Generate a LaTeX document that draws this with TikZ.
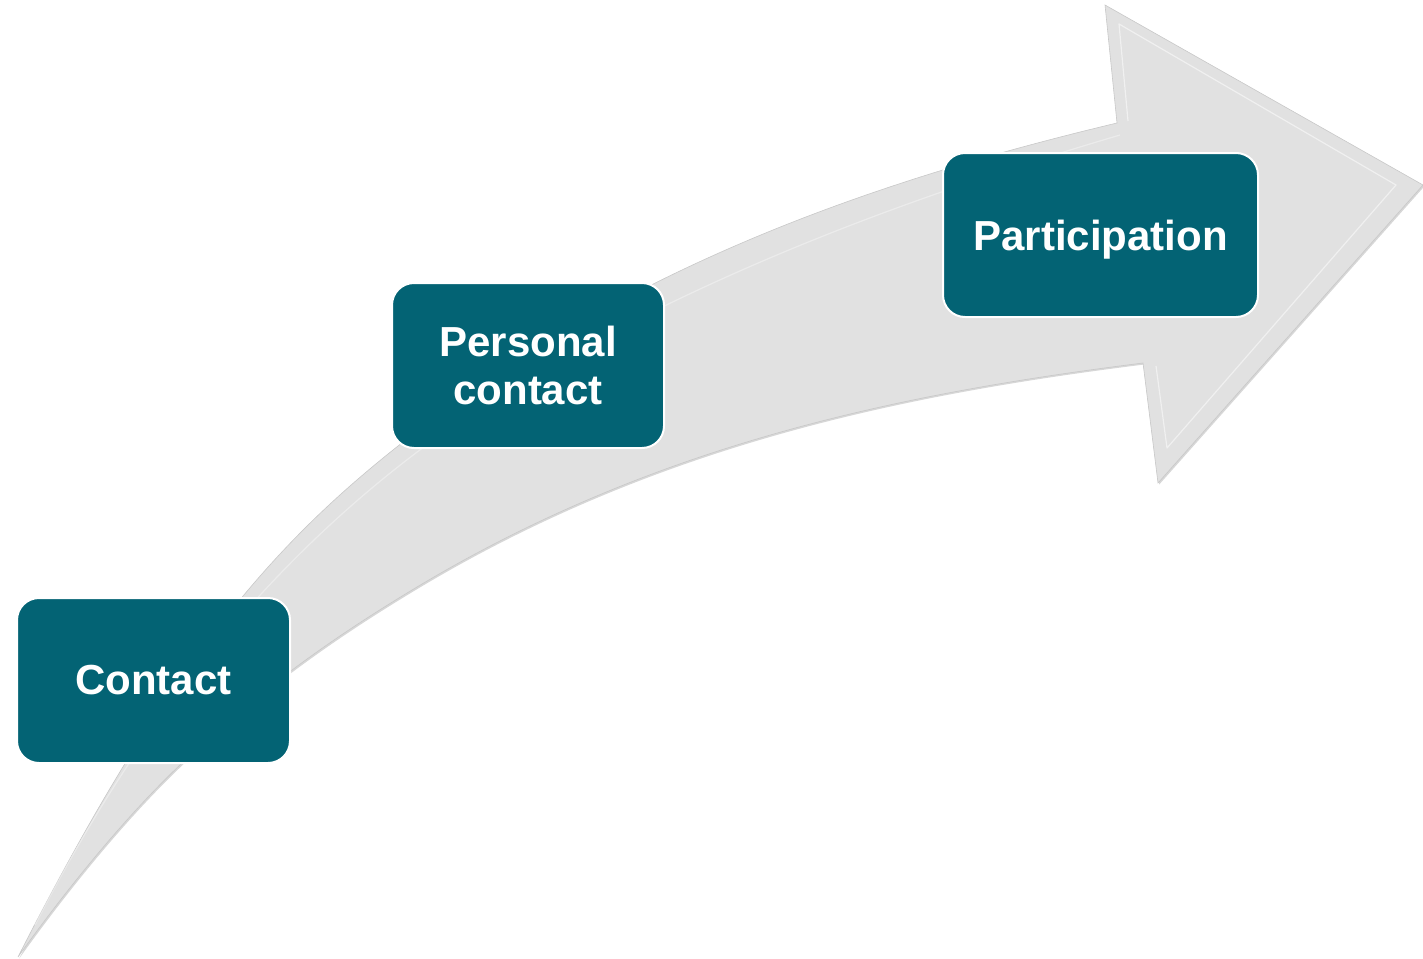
\documentclass[tikz,border=0pt]{standalone}
\usepackage{fontspec}
\setmainfont{Liberation Sans}
\definecolor{boxteal}{HTML}{036374}
\definecolor{arrowfill}{HTML}{E1E1E1}
\definecolor{arrowedge}{HTML}{C8C8C8}
\definecolor{arrowshade}{HTML}{B0B0B0}
\tikzset{
  stagebox/.style={draw=white, line width=2pt, fill=boxteal, rounded corners=22pt,
    text=white, font=\bfseries\fontsize{42}{48}\selectfont, align=center,
    inner sep=0pt},
}
\def\arrowpath{(18,957) .. controls (168,662) and (273,546) .. (393,450)
  .. controls (613,274) and (857,185) .. (1117,123)
  -- (1105,5) -- (1423,185) -- (1158,483) -- (1143,363)
  .. controls (903,393) and (657,443) .. (417,587)
  .. controls (337,635) and (262,687) .. (182,763)
  .. controls (127,815) and (68,887) .. (18,957) -- cycle}
\begin{document}
\begin{tikzpicture}[x=1pt, y=-1pt]
\useasboundingbox (0,0) rectangle (1423,958);
% shadow
\fill[arrowshade, opacity=0.5, xshift=1.2pt, yshift=-1.5pt] \arrowpath;
% arrow body
\filldraw[fill=arrowfill, draw=arrowedge, line width=0.6pt, line join=miter] \arrowpath;
% inner bevel of the head
\draw[white, opacity=0.5, line width=1.2pt, line join=round]
  (1128,121) -- (1119,24) -- (1396,185) -- (1167,448) -- (1156,366);
\draw[white, opacity=0.35, line width=1.2pt]
  (35,925) .. controls (150,700) and (300,520) .. (500,395)
  .. controls (700,275) and (900,200) .. (1120,135);
% stage boxes
\node[stagebox, minimum width=273pt, minimum height=165pt] (contact) at (153.5,680.5) {Contact};
\node[stagebox, minimum width=272pt, minimum height=165pt] (personal) at (528,365.5) {Personal\\contact};
\node[stagebox, minimum width=315pt, minimum height=164pt, text depth=0pt] (participation) at (1100.5,235) {Participation};
\end{tikzpicture}
\end{document}
